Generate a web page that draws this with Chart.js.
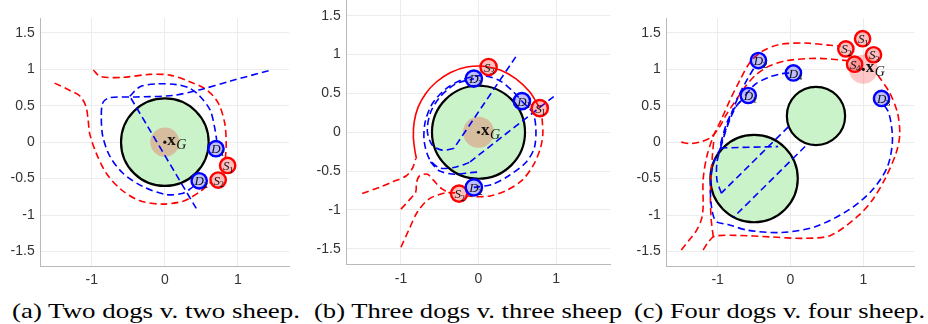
<!DOCTYPE html>
<html><head><meta charset="utf-8">
<script src="https://cdn.jsdelivr.net/npm/chart.js@4.4.1/dist/chart.umd.min.js"></script>
<style>
html,body{margin:0;padding:0;background:#fff;width:928px;height:324px;overflow:hidden;position:relative}
canvas{position:absolute;top:0}
.cap{position:absolute;top:300px;font-family:"Liberation Serif","Times New Roman",serif;font-size:22px;line-height:22px;white-space:nowrap;color:#000;transform-origin:0 0}
</style></head><body>
<canvas id="pa"></canvas><canvas id="pb"></canvas><canvas id="pc"></canvas>
<div class="cap" id="capa"></div><div class="cap" id="capb"></div><div class="cap" id="capc"></div>
<script>
// ---------- axes ----------
const xTicks = [-1, 0, 1];
const xTickLabels = ['-1', '0', '1'];
const yTicks = [-1.5, -1, -0.5, 0, 0.5, 1, 1.5];
const yTickLabels = ['-1.5', '-1', '-0.5', '0', '0.5', '1', '1.5'];
const axisMin = -1.7, axisMax = 1.7;
const captions = ['(a) Two dogs v. two sheep.', '(b) Three dogs v. three sheep', '(c) Four dogs v. four sheep.'];
const agentRadius = 0.105;

// ---------- panel (a) ----------
const aObstacles = [[0, 0, 0.6]];
const aGoal = [0, 0, 0.2];
const aDogs = [[0.70, -0.09], [0.47, -0.53]];
const aSheep = [[0.86, -0.32], [0.73, -0.52]];
const aSheepPaths = [
  [[-1.51,0.81],[-1.30,0.71],[-1.16,0.63],[-1.08,0.49],[-1.05,0.30],[-1.03,0.12],[-0.94,-0.15],[-0.80,-0.43],[-0.60,-0.65],[-0.35,-0.80],[-0.05,-0.85],[0.25,-0.81],[0.48,-0.68],[0.62,-0.56]],
  [[-0.98,0.99],[-0.88,0.90],[-0.57,0.89],[-0.21,0.93],[0.07,0.92],[0.34,0.83],[0.57,0.72],[0.73,0.54],[0.82,0.26],[0.84,-0.01],[0.83,-0.22]]
];
const aDogPaths = [
  [[0.43,-0.91],[-0.48,0.63]],
  [[-0.48,0.63],[-0.34,0.76],[-0.11,0.80],[0.16,0.79],[0.34,0.74],[0.48,0.63],[0.62,0.44],[0.68,0.21],[0.71,0.03]],
  [[1.42,0.98],[0.90,0.84],[0.48,0.72],[0.10,0.64],[-0.40,0.62],[-0.76,0.61],[-0.85,0.54],[-0.87,0.35],[-0.85,0.08],[-0.75,-0.20],[-0.57,-0.43],[-0.30,-0.61],[0.02,-0.72],[0.25,-0.70],[0.39,-0.61]]
];
const aSolidPaths = [];

// ---------- panel (b) ----------
const bObstacles = [[0, 0, 0.6]];
const bGoal = [0, 0, 0.2];
const bDogs = [[0.56, 0.40], [-0.06, -0.71], [-0.06, 0.69]];
const bSheep = [[0.79, 0.31], [-0.25, -0.79], [0.13, 0.84]];
const bSheepPaths = [
  [[-1.50,-0.79],[-1.28,-0.71],[-1.11,-0.64],[-0.93,-0.56],[-0.85,-0.46],[-0.81,-0.34]],
  [[-1.00,-0.99],[-0.90,-0.88],[-0.81,-0.77],[-0.80,-0.65],[-0.76,-0.56],[-0.66,-0.54],[-0.58,-0.62],[-0.47,-0.73],[-0.36,-0.79]],
  [[-1.00,-1.48],[-0.90,-1.26],[-0.79,-1.03],[-0.64,-0.86],[-0.43,-0.78],[-0.30,-0.78]],
  [[0.82,0.18],[0.83,-0.02],[0.80,-0.20],[0.71,-0.42],[0.56,-0.62],[0.36,-0.75],[0.15,-0.82],[-0.05,-0.83],[-0.18,-0.81]]
];
const bSolidPaths = [
  [[0.79,0.31],[0.66,0.52],[0.48,0.69],[0.28,0.80],[0.07,0.85],[-0.15,0.84],[-0.36,0.77],[-0.54,0.65],[-0.68,0.50],[-0.78,0.32],[-0.83,0.13],[-0.84,-0.06],[-0.82,-0.24],[-0.80,-0.34]]
];
const bDogPaths = [
  [[0.48,0.97],[-0.32,-0.21]],
  [[-0.32,-0.21],[-0.47,-0.23],[-0.60,-0.16],[-0.66,0.02],[-0.62,0.25],[-0.50,0.45],[-0.30,0.62],[-0.06,0.69]],
  [[0.97,0.46],[-0.12,-0.39]],
  [[-0.12,-0.39],[-0.30,-0.45],[-0.50,-0.46],[-0.63,-0.35],[-0.70,-0.12],[-0.69,0.12],[-0.60,0.36],[-0.42,0.56],[-0.20,0.68],[0.05,0.73],[0.28,0.66],[0.45,0.52],[0.56,0.40]],
  [[0.56,0.40],[0.70,0.25],[0.74,0.05],[0.72,-0.20],[0.61,-0.39],[0.39,-0.56],[0.18,-0.67],[-0.06,-0.71]],
  [[-0.62,-0.38],[-0.50,-0.50],[-0.30,-0.54],[-0.10,-0.52],[0.03,-0.51]]
];

// ---------- panel (c) ----------
const cObstacles = [[-0.5, -0.5, 0.6], [0.35, 0.36, 0.4]];
const cGoal = [1.0, 1.0, 0.2];
const cDogs = [[-0.58, 0.64], [-0.44, 1.12], [1.25, 0.60], [0.04, 0.95]];
const cSheep = [[0.99, 1.42], [0.76, 1.28], [1.14, 1.20], [0.88, 1.07]];
const cSheepPaths = [
  [[-1.50,-1.48],[-1.38,-1.33],[-1.29,-1.21],[-1.22,-1.05],[-1.20,-0.89],[-1.20,-0.52],[-1.15,-0.20],[-1.06,0.08],[-0.95,0.31],[-0.83,0.58],[-0.69,0.86],[-0.56,1.09],[-0.40,1.24],[-0.15,1.34],[0.20,1.36],[0.55,1.33],[0.69,1.32]],
  [[-1.50,0.00],[-1.38,-0.02],[-1.25,0.00],[-1.10,0.06],[-0.98,0.20],[-0.88,0.38],[-0.76,0.56],[-0.63,0.75],[-0.48,0.92],[-0.30,1.04],[-0.05,1.12],[0.36,1.15],[0.78,1.12]],
  [[-1.20,-1.48],[-1.12,-1.36],[-1.04,-1.29],[-0.74,-1.28],[-0.28,-1.30],[0.18,-1.32],[0.55,-1.28],[0.92,-1.02],[1.12,-0.80],[1.30,-0.50],[1.45,-0.15],[1.50,0.10],[1.47,0.40],[1.36,0.68],[1.20,0.92]],
  [[-1.06,-1.30],[-1.09,-1.05],[-1.10,-0.75],[-1.09,-0.45],[-1.07,-0.15],[-1.05,0.05]]
];
const cSolidPaths = [];
const cDogPaths = [
  [[-0.03,0.21],[-0.95,-0.70]],
  [[-0.95,-0.70],[-1.01,-0.52],[-1.01,-0.28],[-0.96,-0.08]],
  [[-0.96,-0.08],[-0.17,-0.06]],
  [[-0.96,-0.08],[-0.90,0.12],[-0.82,0.34],[-0.74,0.50],[-0.66,0.59]],
  [[-0.96,-0.05],[-0.88,0.20],[-0.80,0.42],[-0.70,0.66],[-0.60,0.85],[-0.50,1.02]],
  [[0.20,-0.06],[-0.78,-1.03]],
  [[-0.96,-0.08],[-1.06,-0.30],[-1.10,-0.60],[-1.08,-0.92],[-1.02,-1.09],[-0.86,-1.13],[-0.58,-1.21],[-0.12,-1.24],[0.34,-1.16],[0.80,-0.93],[1.12,-0.66],[1.33,-0.34],[1.40,0.03],[1.35,0.40],[1.25,0.55]],
  [[-0.96,-0.02],[-0.88,0.25],[-0.78,0.45],[-0.67,0.58],[-0.49,0.79],[-0.30,0.89],[-0.12,0.94],[0.00,0.95]]
];

// ---------- styles ----------
const obstacleFill = 'rgb(202,243,202)';
const goalFill = 'rgba(255,0,0,0.22)';
const dogFill = 'rgba(0,0,255,0.25)', dogEdge = '#0000ff';
const sheepFill = 'rgba(255,0,0,0.25)', sheepEdge = '#ff0000';
const dash = [7, 4];

const panels = [
  {id:'pa', left:0,   w:300, h:292, yW:40.7, padT:18.3, padR:11,  xH:26,
   obstacles:aObstacles, goal:aGoal, dogs:aDogs, sheep:aSheep, sheepPaths:aSheepPaths, dogPaths:aDogPaths, solid:aSolidPaths},
  {id:'pb', left:305, w:310, h:292, yW:41.7, padT:0.2,  padR:4.7, xH:27.7,
   obstacles:bObstacles, goal:bGoal, dogs:bDogs, sheep:bSheep, sheepPaths:bSheepPaths, dogPaths:bDogPaths, solid:bSolidPaths},
  {id:'pc', left:625, w:303, h:292, yW:41.7, padT:18.3, padR:13.7, xH:26,
   obstacles:cObstacles, goal:cGoal, dogs:cDogs, sheep:cSheep, sheepPaths:cSheepPaths, dogPaths:cDogPaths, solid:cSolidPaths}
];

function ppu(c) { const s = c.chart.scales.x; return Math.abs(s.getPixelForValue(1) - s.getPixelForValue(0)); }
function rad(c) { return (c.raw && c.raw.r) ? c.raw.r * ppu(c) : 0; }

function circleSet(list, r, bg, bc, bw, order) {
  return {type:'scatter', order, clip:false, showLine:false,
    data: list.map(p => ({x:p[0], y:p[1], r: p.length > 2 ? p[2] : r})),
    pointRadius: rad, pointHoverRadius: rad, pointStyle:'circle',
    pointBackgroundColor: bg, pointBorderColor: bc, pointBorderWidth: bw, pointHoverBorderWidth: bw};
}
function pathSet(pts, color, dashArr, order) {
  return {type:'scatter', order, clip:false, showLine:true, tension:0.3,
    data: pts.map(p => ({x:p[0], y:p[1]})),
    borderColor: color, borderWidth:1.6, borderDash: dashArr, pointRadius:0, pointHoverRadius:0, fill:false};
}

function agentLabel(ctx, x, y, letter, idx) {
  ctx.font = 'italic 13px "Liberation Serif"';
  ctx.fillText(letter, x - 4.6, y + 4.6);
  const w = ctx.measureText(letter).width;
  ctx.font = '9px "Liberation Serif"';
  ctx.fillText(idx, x - 4.6 + w - 0.5, y + 7.2);
}
function goalLabel(ctx, x, y) {
  ctx.beginPath(); ctx.arc(x, y, 1.6, 0, Math.PI * 2); ctx.fill();
  ctx.font = 'bold 17px "Liberation Serif"';
  ctx.fillText('x', x + 2.5, y + 3);
  const w = ctx.measureText('x').width;
  ctx.font = 'italic 14px "Liberation Serif"';
  ctx.fillText('G', x + 2.5 + w + 0.5, y + 7);
}

function buildPanel(P) {
  const cv = document.getElementById(P.id);
  cv.width = P.w; cv.height = P.h;
  cv.style.left = P.left + 'px';
  cv.style.width = P.w + 'px'; cv.style.height = P.h + 'px';
  const datasets = [];
  P.obstacles.forEach(o => datasets.push(circleSet([o], o[2], obstacleFill, '#000', 2.2, 20)));
  datasets.push(circleSet([P.goal], P.goal[2], goalFill, 'rgba(0,0,0,0)', 0, 19));
  P.sheepPaths.forEach(p => datasets.push(pathSet(p, '#ff0000', dash, 10)));
  P.solid.forEach(p => datasets.push(pathSet(p, '#ff0000', [], 10)));
  P.dogPaths.forEach(p => datasets.push(pathSet(p, '#0000ff', dash, 9)));
  datasets.push(circleSet(P.sheep, agentRadius, sheepFill, sheepEdge, 2.4, 2));
  datasets.push(circleSet(P.dogs, agentRadius, dogFill, dogEdge, 2.4, 1));

  const tickFont = {family:'"Liberation Sans", Arial, sans-serif', size:14};
  new Chart(cv, {
    data: {datasets},
    options: {
      responsive:false, maintainAspectRatio:false, animation:false, devicePixelRatio:1, events:[],
      layout: {padding: {left:0, top:P.padT, right:P.padR, bottom:0}},
      plugins: {legend:{display:false}, tooltip:{enabled:false}},
      scales: {
        x: {type:'linear', position:'bottom', min:axisMin, max:axisMax,
          afterBuildTicks: s => { s.ticks = xTicks.map(v => ({value:v})); },
          afterFit: s => { s.height = P.xH; s.paddingLeft = 0; s.paddingRight = 0; },
          grid: {color:'#ececec', lineWidth:1, drawTicks:false},
          border: {color:'#b9b9b9', width:1},
          ticks: {font:tickFont, color:'#333', padding:6, maxRotation:0, autoSkip:false,
                  callback: (v, i) => xTickLabels[i]}},
        y: {type:'linear', position:'left', min:axisMin, max:axisMax,
          afterBuildTicks: s => { s.ticks = yTicks.map(v => ({value:v})); },
          afterFit: s => { s.width = P.yW; s.paddingTop = 0; s.paddingBottom = 0; },
          grid: {color:'#ececec', lineWidth:1, drawTicks:false},
          border: {color:'#b9b9b9', width:1},
          ticks: {font:tickFont, color:'#333', padding:6, autoSkip:false,
                  callback: (v, i) => yTickLabels[i]}}
      }
    },
    plugins: [{
      id: 'agentLabels',
      afterDatasetsDraw(chart) {
        const ctx = chart.ctx, xs = chart.scales.x, ys = chart.scales.y;
        ctx.save();
        ctx.fillStyle = '#111'; ctx.textAlign = 'left'; ctx.textBaseline = 'alphabetic';
        P.dogs.forEach((p, i) => agentLabel(ctx, xs.getPixelForValue(p[0]), ys.getPixelForValue(p[1]), 'D', String(i + 1)));
        P.sheep.forEach((p, i) => agentLabel(ctx, xs.getPixelForValue(p[0]), ys.getPixelForValue(p[1]), 'S', String(i + 1)));
        goalLabel(ctx, xs.getPixelForValue(P.goal[0]), ys.getPixelForValue(P.goal[1]));
        ctx.restore();
      }
    }]
  });
}

const capTargets = [[12, 288], [314, 308], [634, 291]];
function layoutCaptions() {
  ['capa', 'capb', 'capc'].forEach((id, i) => {
    const el = document.getElementById(id);
    el.textContent = captions[i];
    el.style.left = capTargets[i][0] + 'px';
    el.style.transform = 'none';
    const w = el.getBoundingClientRect().width;
    el.style.transform = 'scaleX(' + (capTargets[i][1] / w) + ')';
  });
}

panels.forEach(buildPanel);
layoutCaptions();
if (document.fonts && document.fonts.ready) document.fonts.ready.then(layoutCaptions);
</script>
</body></html>
